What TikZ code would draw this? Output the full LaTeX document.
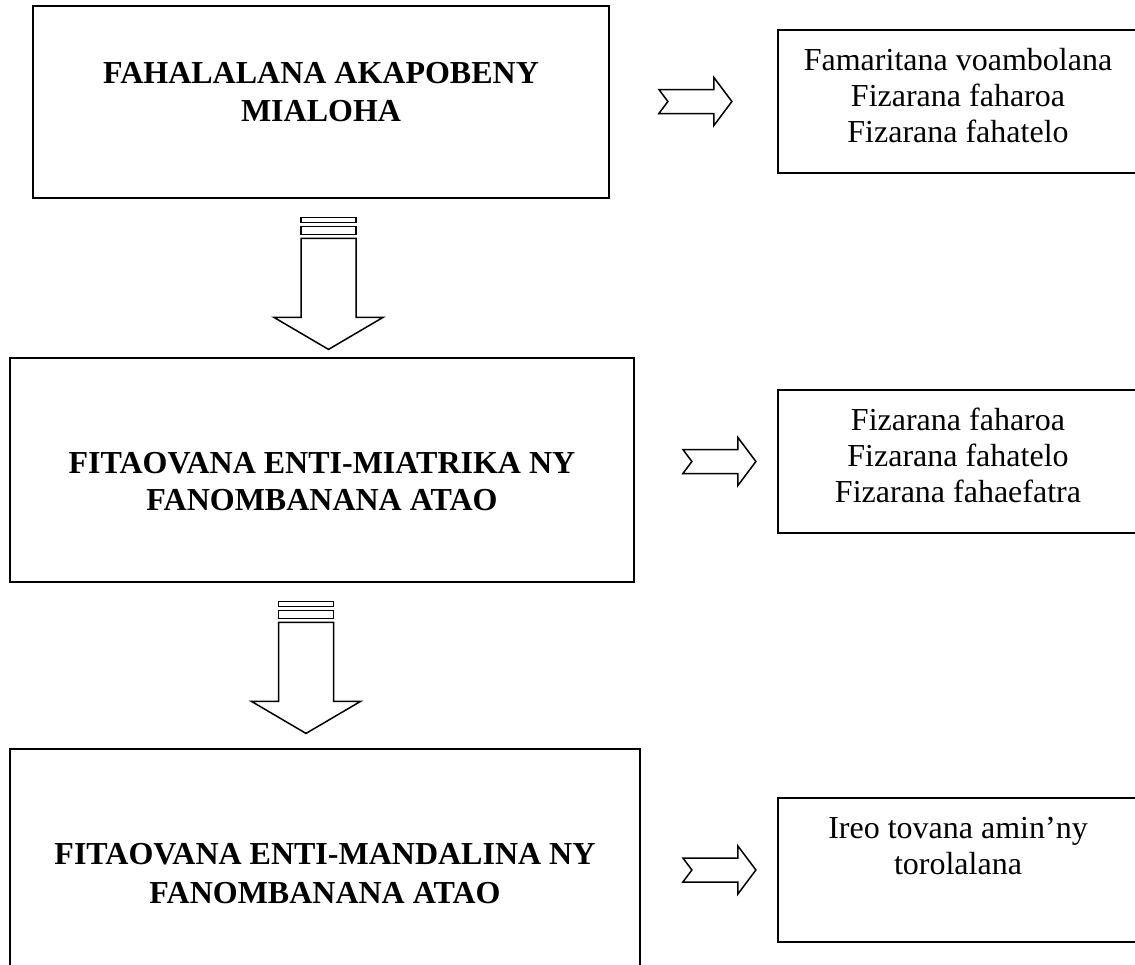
\documentclass[tikz,border=0pt]{standalone}
\usepackage{fontspec}
\setmainfont{Liberation Serif}
\usepackage{tikz}
\usetikzlibrary{positioning}
\usetikzlibrary{calc}
\tikzstyle{box}=[rectangle,draw,line width=1.8pt,inner sep=0pt]
\tikzstyle{blockarrow}=[draw,line width=1.5pt,fill=white,line join=miter]
\tikzstyle{heading}=[font=\fontsize{32}{37}\selectfont\bfseries,anchor=base,inner sep=0pt]
\tikzstyle{item}=[font=\fontsize{32}{37}\selectfont,anchor=base,inner sep=0pt]

\begin{document}
\begin{tikzpicture}[x=1pt,y=-1pt]

 \useasboundingbox (0,0) rectangle (1135,964);
 \clip (0,0) rectangle (1135,964);

 %main boxes
 \foreach \x/\y/\w/\h/\name in {321/102/576/192/fahalalana, 322/470/624/224/miatrika, 325/859/630/220/mandalina}
   \node[box, minimum width=\w pt, minimum height=\h pt] (\name) at (\x,\y) {};

 %side boxes
 \foreach \y/\h/\name in {101.5/143/note1, 461.5/143/note2, 870/144/note3}
   \node[box, minimum width=361pt, minimum height=\h pt] (\name) at (958.5,\y) {};

 %texts of the main boxes
 \foreach \x/\y/\name/\label in {321/83/fa1/{FAHALALANA AKAPOBENY}, 321/121/fa2/MIALOHA,
                                 322/473/mi1/{FITAOVANA ENTI-MIATRIKA NY}, 322/510/mi2/{FANOMBANANA ATAO},
                                 325/864/ma1/{FITAOVANA ENTI-MANDALINA NY}, 325/903/ma2/{FANOMBANANA ATAO}}
   \node[heading] (\name) at (\x,\y) {\label};

 %texts of the side boxes
 \foreach \y/\name/\label in {70/n11/{Famaritana voambolana}, 106/n12/{Fizarana faharoa}, 142/n13/{Fizarana fahatelo},
                              430/n21/{Fizarana faharoa}, 466/n22/{Fizarana fahatelo}, 502/n23/{Fizarana fahaefatra},
                              838/n31/{Ireo tovana amin’ny}, 874/n32/{torolalana}}
   \node[item] (\name) at (958,\y) {\label};

 %down arrows
 \foreach \from/\dx in {fahalalana/7.5, miatrika/-16}
 {
  \begin{scope}[shift={($(\from.south)+(\dx,18.5)$)}]
   \draw[blockarrow] (-27.5,0) rectangle (27.5,5);
   \draw[blockarrow] (-27.5,9) rectangle (27.5,17);
   \draw[blockarrow] (-27.5,21) -- (27.5,21) -- (27.5,100) -- (54.5,100) -- (0,132)
         -- (-54.5,100) -- (-27.5,100) -- cycle;
  \end{scope}
 }

 %right arrows
 \foreach \from/\to/\dx in {fahalalana/note1/49, miatrika/note2/48, mandalina/note3/42}
   \draw[blockarrow, shift={($(\from.east |- \to.west)+(\dx,0)$)}] (0,-12) -- (55,-12) -- (55,-24)
         -- (73,0) -- (55,24) -- (55,12) -- (0,12) -- (9,0) -- cycle;

\end{tikzpicture}
\end{document}
